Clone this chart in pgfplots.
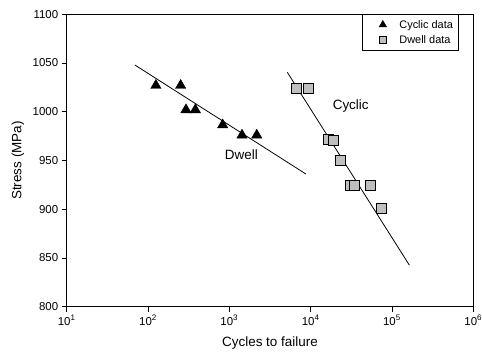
\documentclass[border=0pt]{standalone}
\usepackage{fontspec}
\setmainfont{Liberation Sans}
\usepackage{pgfplots}
\pgfplotsset{compat=1.18}
\pgfplotsset{myleg/.style={legend image code/.code={\path[draw=none,fill=none] (0bp,-3bp) rectangle (32bp,3bp); \draw[##1] plot coordinates {(17.5bp,0bp)};}}}
\begin{document}
\begin{tikzpicture}
\begin{axis}[
  scale only axis,
  width=406.6bp, height=292.4bp,
  xmode=log, log basis x=10,
  xmin=10, xmax=1e6, ymin=800, ymax=1100,
  xtick={10,100,1000,10000,100000,1000000},
  xticklabels={10\textsuperscript{1},10\textsuperscript{2},10\textsuperscript{3},10\textsuperscript{4},10\textsuperscript{5},10\textsuperscript{6}},
  ytick={800,850,900,950,1000,1050,1100},
  yticklabels={800,850,900,950,1000,1050,1100},
  xminorticks=false, yminorticks=false,
  tick align=outside, major tick length=5bp,
  tick style={black, line width=0.6pt},
  axis line style={line width=0.8pt},
  xtick pos=bottom, ytick pos=left,
  ticklabel style={font=\fontsize{11.5}{13}\selectfont},
  xlabel={Cycles to failure}, ylabel={Stress (MPa)},
  every axis x label/.style={at={(axis description cs:0.5,-0.1255)},anchor=center,font=\fontsize{13.5}{15}\selectfont},
  every axis y label/.style={at={(axis description cs:-0.1198,0.5)},rotate=90,anchor=center,font=\fontsize{13.5}{15}\selectfont},
  legend style={at={(axis description cs:0.963,1)},anchor=north east,draw=black,line width=0.6pt,
    font=\fontsize{11}{12}\selectfont, inner xsep=3bp, inner ysep=3.5bp, row sep=2bp},
  legend cell align=left,
]
\addplot[only marks, mark=triangle*, mark size=6bp, mark options={fill=black,draw=black}, myleg, legend image post style={mark size=4.2bp}]
  coordinates {(125,1027) (252,1027) (293,1002) (382,1002) (828,986.5) (1432,976) (2173,976)};
\addlegendentry{Cyclic data}
\addplot[only marks, mark=square*, mark size=5bp, mark options={fill=black!25,draw=black,line width=0.8pt}, myleg, legend image post style={mark size=3.4bp}]
  coordinates {(6607,1023.6) (9290,1023.6) (16370,971.7) (19000,971) (23000,949.7) (30500,924.4) (34800,924.4) (53700,924.4) (74000,900.8)};
\addlegendentry{Dwell data}
\addplot[black, line width=0.8pt, forget plot] coordinates {(69.2,1047.9) (8790,936)};
\addplot[black, line width=0.8pt, forget plot] coordinates {(5166,1040.5) (163700,842.6)};
\node[font=\fontsize{13.5}{15}\selectfont] at (axis cs:1406,955.5) {Dwell};
\node[font=\fontsize{13.5}{15}\selectfont] at (axis cs:31100,1005.8) {Cyclic};
\end{axis}
\pgfresetboundingbox
\path (current axis.south west) ++(-66.7bp,-45.3bp) rectangle ([shift={(8.7bp,14.3bp)}]current axis.north east);
\end{tikzpicture}
\end{document}
